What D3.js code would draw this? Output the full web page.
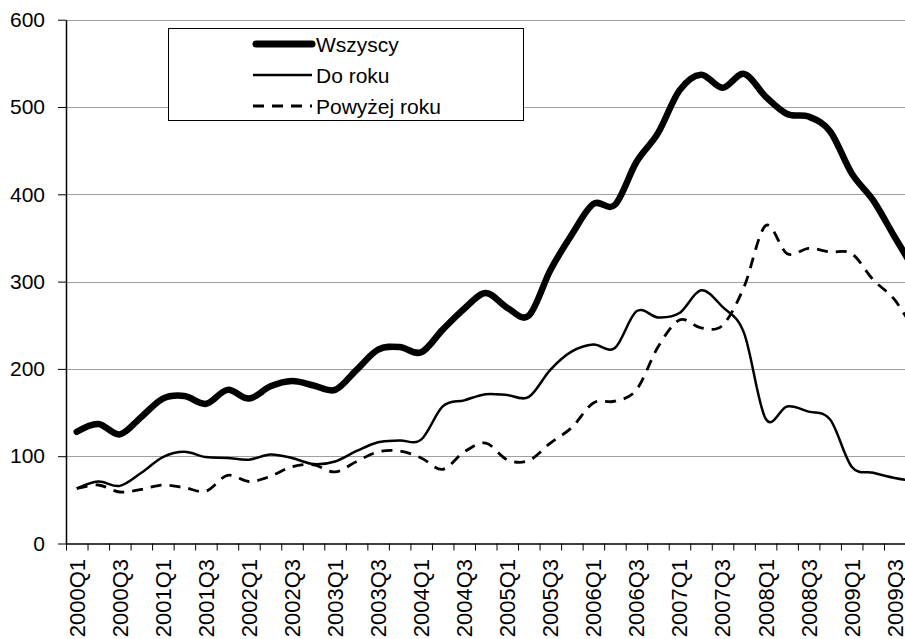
<!DOCTYPE html>
<html>
<head>
<meta charset="utf-8">
<script src="https://cdn.jsdelivr.net/npm/d3@7"></script>
<style>
  html, body { margin: 0; padding: 0; background: #fff; }
  svg { display: block; }
  text { font-family: Arial, "Liberation Sans", sans-serif; fill: #000; }
</style>
</head>
<body>
<svg id="chart" width="905" height="639"></svg>
<script>
const quarters = [
  "2000Q1","2000Q2","2000Q3","2000Q4","2001Q1","2001Q2","2001Q3","2001Q4",
  "2002Q1","2002Q2","2002Q3","2002Q4","2003Q1","2003Q2","2003Q3","2003Q4",
  "2004Q1","2004Q2","2004Q3","2004Q4","2005Q1","2005Q2","2005Q3","2005Q4",
  "2006Q1","2006Q2","2006Q3","2006Q4","2007Q1","2007Q2","2007Q3","2007Q4",
  "2008Q1","2008Q2","2008Q3","2008Q4","2009Q1","2009Q2","2009Q3","2009Q4"
];
const wszyscy = [128,137,125,145,166,169,160,176,166,180,186,181,176,199,222,225,219,245,269,287,270,261,313,354,389,388,437,470,519,537,522,538,512,492,489,472,424,393,351,310];
const doRoku = [63,71,66,81,99,105,99,98,96,102,98,91,94,106,116,118,119,157,164,171,170,168,199,220,228,224,266,259,264,290,271,241,143,157,151,142,88,81,75,71];
const powyzejRoku = [63,67,59,62,67,64,60,78,71,77,88,90,82,94,105,106,98,85,105,115,96,95,115,133,161,163,176,225,256,247,250,294,364,332,338,334,332,302,279,240];
const yTicks = [0,100,200,300,400,500,600];
const seriesNames = ["Wszyscy","Do roku","Powyżej roku"];

(function () {
const svg = d3.select("#chart");
const mLeft = 66, mTop = 19.7, mBottom = 543.5;
const step = 21.526;
const mRight = mLeft + step * quarters.length;

const x = d3.scaleBand().domain(quarters).range([mLeft, mRight]).paddingInner(0).paddingOuter(0);
const xb = d3.scaleLinear().domain([0, quarters.length]).range([mLeft, mRight]);
const y = d3.scaleLinear().domain([0, 600]).range([mBottom, mTop]);

// gridlines
svg.append("g").selectAll("line").data(yTicks.filter(d => d > 0)).join("line")
  .attr("x1", mLeft).attr("x2", mRight)
  .attr("y1", d => Math.round(y(d)) + 0.5).attr("y2", d => Math.round(y(d)) + 0.5)
  .attr("stroke", "#a0a0a0").attr("stroke-width", 1);

// y axis
const yAxis = svg.append("g").attr("transform", `translate(${mLeft},0)`)
  .call(d3.axisLeft(y).tickValues(yTicks).tickSize(8).tickPadding(13).tickSizeOuter(0));
yAxis.select(".domain").attr("stroke", "#000").attr("stroke-width", 1.5);
yAxis.selectAll(".tick line").attr("stroke", "#000").attr("stroke-width", 1);
yAxis.selectAll("text").attr("font-size", 21).attr("font-family", "Arial, 'Liberation Sans', sans-serif");

// x axis boundary ticks
const xAxis = svg.append("g").attr("transform", `translate(0,${mBottom})`)
  .call(d3.axisBottom(xb).tickValues(d3.range(0, quarters.length + 1)).tickSize(7).tickSizeOuter(0).tickFormat(""));
xAxis.select(".domain").attr("stroke", "#000").attr("stroke-width", 1.5);
xAxis.selectAll(".tick line").attr("stroke", "#000").attr("stroke-width", 1);

// x labels
const labelQuarters = quarters.filter((q, i) => i % 2 === 0);
const xLab = svg.append("g").attr("transform", `translate(0,${mBottom})`)
  .call(d3.axisBottom(x).tickValues(labelQuarters).tickSize(0).tickPadding(0));
xLab.select(".domain").remove();
xLab.selectAll("text")
  .attr("font-size", 22).attr("font-family", "Arial, 'Liberation Sans', sans-serif")
  .attr("text-anchor", "end")
  .attr("transform", "translate(0,15.5) rotate(-90)")
  .attr("x", 0).attr("y", 0).attr("dy", "0.36em");

// lines
const line = d3.line()
  .x((d, i) => x(quarters[i]) + x.bandwidth() / 2)
  .y(d => y(d))
  .curve(d3.curveCatmullRom.alpha(0));

const g = svg.append("g");
g.append("path").datum(powyzejRoku).attr("d", line)
  .attr("fill", "none").attr("stroke", "#000").attr("stroke-width", 2.8)
  .attr("stroke-dasharray", "11,8");
g.append("path").datum(doRoku).attr("d", line)
  .attr("fill", "none").attr("stroke", "#000").attr("stroke-width", 2.5);
g.append("path").datum(wszyscy).attr("d", line)
  .attr("fill", "none").attr("stroke", "#000").attr("stroke-width", 6.5)
  .attr("stroke-linejoin", "round").attr("stroke-linecap", "round");

// legend
const leg = svg.append("g");
leg.append("rect").attr("x", 168.5).attr("y", 28.5).attr("width", 355).attr("height", 92)
  .attr("fill", "#fff").attr("stroke", "#000").attr("stroke-width", 1);
const legRows = [
  {name: seriesNames[0], w: 7, dash: null, cap: "round"},
  {name: seriesNames[1], w: 2.5, dash: null, cap: "butt"},
  {name: seriesNames[2], w: 2.8, dash: "11,8", cap: "butt"}
];
legRows.forEach((r, i) => {
  const yy = 44 + i * 31;
  leg.append("line").attr("x1", r.cap === "round" ? 256 : 253).attr("x2", 312)
    .attr("y1", yy).attr("y2", yy)
    .attr("stroke", "#000").attr("stroke-width", r.w)
    .attr("stroke-linecap", r.cap)
    .attr("stroke-dasharray", r.dash);
  leg.append("text").attr("x", 316).attr("y", yy).attr("dy", "0.36em")
    .attr("font-size", 21).text(r.name);
});
})();
</script>
</body>
</html>
